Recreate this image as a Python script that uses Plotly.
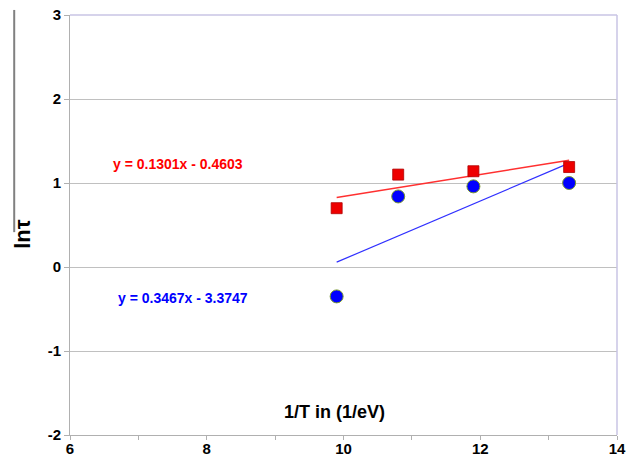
import plotly.graph_objects as go

x_vals = [9.9, 10.8, 11.9, 13.3]
red_y = [0.70, 1.10, 1.14, 1.19]
blue_y = [-0.35, 0.84, 0.96, 1.00]
red_fit = [0.1301, -0.4603]
blue_fit = [0.3467, -3.3747]
fit_x = [9.9, 13.3]
y_ticks = [-2, -1, 0, 1, 2, 3]
y_ticktext = ["-2", "-1", "0", "1", "2", "3"]
x_ticks = [6, 8, 10, 12, 14]
x_ticktext = ["6", "8", "10", "12", "14"]

FONT = "Liberation Sans, Arial"

fig = go.Figure()

def line(c):
    return [c[0] * x + c[1] for x in fit_x]

fig.add_trace(go.Scatter(x=fit_x, y=line(red_fit), mode="lines",
                         line=dict(color="#ff3030", width=1.5), showlegend=False))
fig.add_trace(go.Scatter(x=fit_x, y=line(blue_fit), mode="lines",
                         line=dict(color="#3030ff", width=1.2), showlegend=False))
fig.add_trace(go.Scatter(x=x_vals, y=red_y, mode="markers",
                         marker=dict(symbol="square", size=11, color="#ee0000",
                                     line=dict(color="#b00000", width=0.8)),
                         showlegend=False))
fig.add_trace(go.Scatter(x=x_vals, y=blue_y, mode="markers",
                         marker=dict(symbol="circle", size=13, color="#0000ff",
                                     line=dict(color="#7a9a30", width=1)),
                         showlegend=False))

fig.add_annotation(x=7.58, y=1.23, text="<b>y = 0.1301x - 0.4603</b>", showarrow=False,
                   font=dict(family=FONT, size=14, color="#ff0000"))
fig.add_annotation(x=7.65, y=-0.37, text="<b>y = 0.3467x - 3.3747</b>", showarrow=False,
                   font=dict(family=FONT, size=14, color="#0000ff"))
fig.add_annotation(x=9.87, y=-1.73, text="<b>1/T in (1/eV)</b>", showarrow=False,
                   font=dict(family=FONT, size=18, color="#000000"))
fig.add_annotation(xref="paper", yref="paper", x=-0.087, y=0.48, text="<b>lnτ</b>", textangle=-90,
                   showarrow=False, xanchor="center", yanchor="middle",
                   font=dict(family=FONT, size=22, color="#000000"))

# decorative line beside y title
fig.add_shape(type="line", xref="paper", yref="paper", x0=-0.102, x1=-0.102, y0=1.012, y1=0.483,
              line=dict(color="#808080", width=2))
# top and right border (lavender)
fig.add_shape(type="line", xref="paper", yref="paper", x0=0, x1=1, y0=1, y1=1,
              line=dict(color="#c8c4e4", width=1.5))
fig.add_shape(type="line", xref="paper", yref="paper", x0=1, x1=1, y0=0, y1=1,
              line=dict(color="#c8c4e4", width=1.5))

fig.update_xaxes(range=[6, 14], tickvals=x_ticks, ticktext=["<b>%s</b>" % t for t in x_ticktext],
                 showgrid=False, zeroline=False,
                 showline=True, linecolor="#b0b0b0", linewidth=1, automargin=False,
                 ticks="outside", ticklen=4, tickcolor="#b0b0b0", ticklabelstandoff=-4,
                 minor=dict(dtick=1, tick0=6, ticks="outside", ticklen=4, tickcolor="#b0b0b0"),
                 tickfont=dict(family=FONT, size=15, color="#000000"))
fig.update_yaxes(range=[-2, 3], tickvals=y_ticks, ticktext=["<b>%s</b>" % t for t in y_ticktext],
                 showgrid=True, gridcolor="#c0c0c0", gridwidth=1,
                 zeroline=False, showline=True, linecolor="#b0b0b0", linewidth=1, automargin=False,
                 ticks="outside", ticklen=5, tickcolor="#b0b0b0",
                 tickfont=dict(family=FONT, size=15, color="#000000"))

fig.update_layout(width=634, height=462, margin=dict(l=70, r=17, t=15, b=27),
                  plot_bgcolor="white", paper_bgcolor="white")

fig.write_html("out.html")
